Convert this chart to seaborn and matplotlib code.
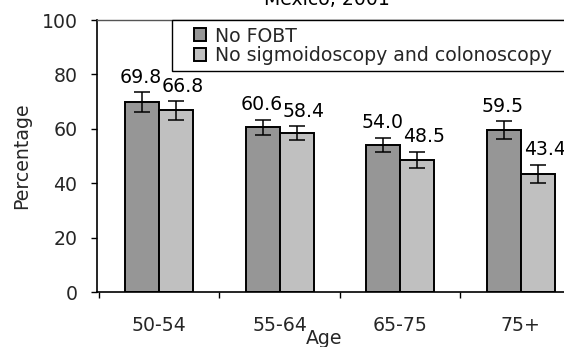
import matplotlib
matplotlib.use("Agg")
import matplotlib.pyplot as plt
from matplotlib.patches import Rectangle
from matplotlib.container import BarContainer
import numpy as np
import pandas as pd
import seaborn as sns

# Screening data by age group
ages = ["50-54", "55-64", "65-75", "75+"]
series_names = ["No FOBT", "No sigmoidoscopy and colonoscopy"]
no_fobt = [69.8, 60.6, 54.0, 59.5]
no_sig_col = [66.8, 58.4, 48.5, 43.4]
no_fobt_err = [3.7, 2.7, 2.7, 3.2]
no_sig_col_err = [3.4, 2.6, 3.0, 3.4]
y_ticks = [0, 20, 40, 60, 80, 100]
title_text = "Mexico, 2001"

values = [no_fobt, no_sig_col]
errors = [no_fobt_err, no_sig_col_err]

df = pd.DataFrame({
    "Age": ages * 2,
    "value": no_fobt + no_sig_col,
    "series": [series_names[0]] * 4 + [series_names[1]] * 4,
})

sns.set_style("white")
plt.rcParams["font.family"] = ["DejaVu Sans"]
FS = 13.6

W, H = 564, 347
fig = plt.figure(figsize=(W / 100, H / 100), dpi=100)
ax_l, ax_r, ax_t, ax_b = 97, 581, 20, 292
ax = fig.add_axes([ax_l / W, 1 - ax_b / H, (ax_r - ax_l) / W, (ax_b - ax_t) / H])

sns.barplot(data=df, x="Age", y="value", hue="series",
            palette=["#969696", "#c0c0c0"], width=0.5635,
            edgecolor="black", linewidth=1.4, errorbar=None,
            saturation=1, ax=ax)

ax.set_xlim(-0.514, 3.5)
ax.set_ylim(0, 100)
ax.set_yticks(y_ticks)
ax.set_yticklabels([str(v) for v in y_ticks], fontsize=FS)

# category labels centred, tick marks on category boundaries
ax.set_xticks(range(len(ages)))
ax.set_xticklabels(ages, fontsize=FS)
ax.set_xticks([-0.5, 0.5, 1.5, 2.5], minor=True)
ax.tick_params(axis="x", which="major", length=0, pad=17)
ax.tick_params(axis="x", which="minor", length=4, width=1.0, direction="out",
               color="black", bottom=True)
ax.tick_params(axis="y", length=4, width=1.0, direction="out", color="black",
               left=True, pad=10)

for side in ["left", "bottom"]:
    ax.spines[side].set_color("black")
    ax.spines[side].set_linewidth(1.2)
ax.spines["top"].set_color("#555555")
ax.spines["top"].set_linewidth(1.0)
ax.spines["right"].set_visible(False)

# error bars and value labels
label_dx = [-1, 7]
bar_groups = [c for c in ax.containers if isinstance(c, BarContainer)]
for k, cont in enumerate(bar_groups):
    xs = [p.get_x() + p.get_width() / 2 for p in cont.patches]
    ax.errorbar(xs, values[k], yerr=errors[k], fmt="none", ecolor="black",
                elinewidth=1.1, capsize=6, capthick=1.1, zorder=5)
    for x, v, e in zip(xs, values[k], errors[k]):
        ax.annotate(f"{v:.1f}", xy=(x, v + e), xytext=(label_dx[k], 9.5),
                    textcoords="offset pixels", ha="center", va="baseline",
                    fontsize=FS, color="black")

ax.set_ylabel("Percentage", fontsize=FS)
ax.yaxis.set_label_coords((31 - ax_l) / (ax_r - ax_l), 0.5)
ax.set_xlabel("Age", fontsize=FS)
ax.xaxis.set_label_coords((324 - ax_l) / (ax_r - ax_l), -0.136)

# legend box and entries
box_y0 = (ax_b - 70.7) / (ax_b - ax_t)
ax.add_patch(Rectangle(((172.3 - ax_l) / (ax_r - ax_l), box_y0),
                       1.2, 1 - box_y0, transform=ax.transAxes,
                       facecolor="white", edgecolor="black", linewidth=1.0,
                       clip_on=False, zorder=6))
handles, labels = ax.get_legend_handles_labels()
leg = ax.legend(handles, labels, loc="upper left",
                bbox_to_anchor=((194.3 - ax_l) / (ax_r - ax_l),
                                (ax_b - 26.5) / (ax_b - ax_t)),
                frameon=False, fontsize=FS, borderpad=0, borderaxespad=0,
                handlelength=0.6, handleheight=0.68, handletextpad=0.5,
                labelspacing=0.04)
leg.set_zorder(7)

fig.text(327 / W, 1 - 5 / H, title_text, ha="center", va="baseline",
         fontsize=FS, color="black")

fig.savefig("out.png", dpi=100)
